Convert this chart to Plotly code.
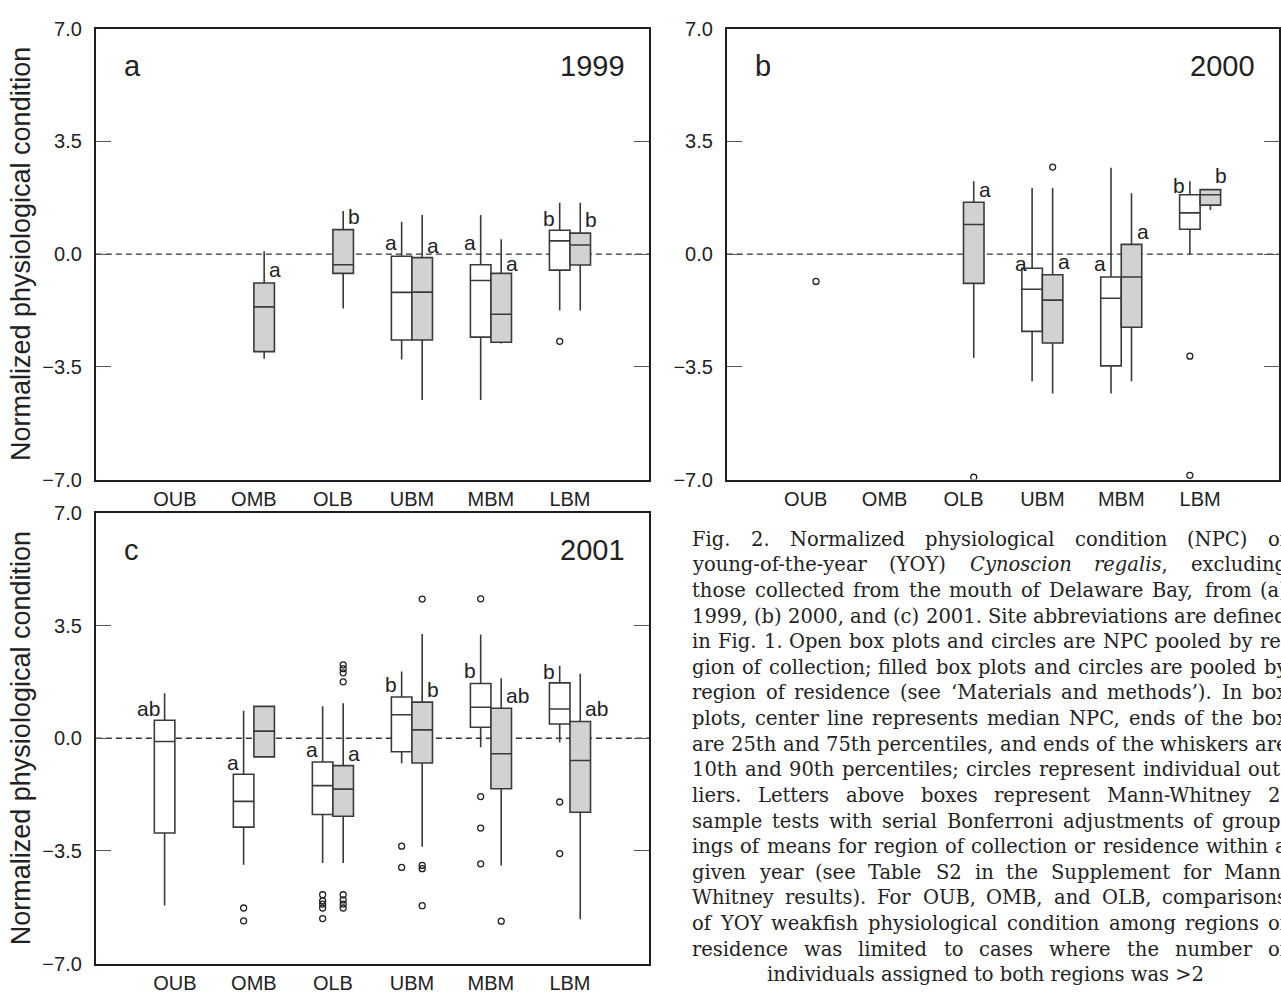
import plotly.graph_objects as go

W, H = 1281, 1006

# ---------------- data ----------------
categories = ["OUB", "OMB", "OLB", "UBM", "MBM", "LBM"]
y_ticks = [-7.0, -3.5, 0.0, 3.5, 7.0]
y_tick_labels = ["\u22127.0", "\u22123.5", "0.0", "3.5", "7.0"]
panel_letters = ["a", "b", "c"]
panel_years = ["1999", "2000", "2001"]

# five-number summaries per category: [p10, q1, median, q3, p90]; None = no box
a_collection = [None, None, None,
                [-3.27, -2.67, -1.19, -0.07, 1.00],
                [-4.53, -2.58, -0.82, -0.33, 1.21],
                [-1.75, -0.50, 0.41, 0.74, 1.59]]
a_residence = [None,
               [-3.25, -3.03, -1.64, -0.90, 0.09],
               [-1.69, -0.60, -0.33, 0.76, 1.34],
               [-4.53, -2.67, -1.18, -0.11, 1.21],
               [-2.78, -2.74, -1.87, -0.60, 0.46],
               [-1.75, -0.34, 0.28, 0.65, 1.59]]
b_collection = [None, None, None,
                [-3.95, -2.40, -1.09, -0.44, 2.05],
                [-4.33, -3.47, -1.37, -0.71, 2.68],
                [0.00, 0.77, 1.28, 1.84, 2.26]]
b_residence = [None, None,
               [-3.22, -0.91, 0.92, 1.61, 2.26],
               [-4.33, -2.76, -1.43, -0.64, 2.05],
               [-3.95, -2.27, -0.71, 0.30, 1.89],
               [1.37, 1.52, 1.84, 2.00, 2.02]]
c_collection = [[-5.19, -2.94, -0.10, 0.56, 1.40],
                [-3.93, -2.76, -1.96, -1.12, 0.85],
                [-3.87, -2.37, -1.47, -0.74, 0.99],
                [-0.78, -0.42, 0.73, 1.28, 2.07],
                [-0.28, 0.34, 0.96, 1.70, 3.22],
                [-0.13, 0.44, 0.91, 1.72, 2.25]]
c_residence = [None,
               [-0.58, -0.58, 0.22, 0.99, 0.99],
               [-3.87, -2.42, -1.58, -0.85, 1.09],
               [-3.37, -0.77, 0.26, 1.12, 3.24],
               [-3.95, -1.57, -0.48, 0.93, 1.86],
               [-5.62, -2.30, -0.69, 0.52, 2.00]]

# individual outliers per category
a_out_collection = [[], [], [], [], [], [-2.71]]
a_out_residence = [[], [], [], [], [], []]
b_out_collection = [[], [], [], [], [], [-3.17, -6.87]]
b_out_residence = [[-0.85], [], [-6.93], [2.70], [], []]
c_out_collection = [[], [-5.27, -5.67], [-4.86, -5.05, -5.15, -5.27, -5.60],
                    [-3.35, -4.01], [4.33, -1.81, -2.79, -3.90], [-1.98, -3.58]]
c_out_residence = [[], [], [2.28, 2.16, 2.03, 1.75, -4.86, -5.02, -5.15, -5.27],
                   [4.32, -3.95, -4.05, -5.20], [-5.68], []]

# Mann-Whitney grouping letters: (text, y position)
a_let_collection = [None, None, None, ("a", 0.35), ("a", 0.35), ("b", 1.11)]
a_let_residence = [None, ("a", -0.49), ("b", 1.16), ("a", 0.27), ("a", -0.28), ("b", 1.08)]
b_let_collection = [None, None, None, ("a", -0.28), ("a", -0.30), ("b", 2.13)]
b_let_residence = [None, None, ("a", 2.02), ("a", -0.23), ("a", 0.69), ("b", 2.43)]
c_let_collection = [("ab", 0.93), ("a", -0.74), ("a", -0.35), ("b", 1.67), ("b", 2.10), ("b", 2.06)]
c_let_residence = [None, None, ("a", -0.48), ("b", 1.52), ("ab", 1.34), ("ab", 0.93)]

y_title = "Normalized physiological condition"

caption_lines = [
    "Fig. 2. Normalized physiological condition (NPC) of",
    "young-of-the-year (YOY) <i>Cynoscion</i> <i>regalis</i>, excluding",
    "those collected from the mouth of Delaware Bay, from (a)",
    "1999, (b) 2000, and (c) 2001. Site abbreviations are defined",
    "in Fig. 1. Open box plots and circles are NPC pooled by re-",
    "gion of collection; filled box plots and circles are pooled by",
    "region of residence (see \u2018Materials and methods\u2019). In box",
    "plots, center line represents median NPC, ends of the box",
    "are 25th and 75th percentiles, and ends of the whiskers are",
    "10th and 90th percentiles; circles represent individual out-",
    "liers. Letters above boxes represent Mann-Whitney 2-",
    "sample tests with serial Bonferroni adjustments of group-",
    "ings of means for region of collection or residence within a",
    "given year (see Table S2 in the Supplement for Mann-",
    "Whitney results). For OUB, OMB, and OLB, comparisons",
    "of YOY weakfish physiological condition among regions of",
    "residence was limited to cases where the number of",
]
caption_last = "individuals assigned to both regions was &gt;2"

# ---------------- layout helpers ----------------
SANS = "Liberation Sans, Arial, Helvetica, sans-serif"
SERIF = "DejaVu Serif, serif"
CAP_SIZE = 19.5
BOX_W = 0.26
OFF = BOX_W / 2
OPEN_FILL = "white"
FILLED = "#d1d2d4"
LINE = "#3a3a3a"

# approximate DejaVu Serif advance widths (em) for justifying the caption
CW = dict(zip("abcdefghijklmnopqrstuvwxyz",
              [.596, .640, .560, .640, .592, .370, .640, .644, .320, .310, .606, .320, .948,
               .644, .602, .640, .640, .478, .513, .402, .644, .565, .856, .564, .565, .527]))
CW.update(dict(zip("ABCDEFGHIJKLMNOPQRSTUVWXYZ",
                   [.722, .735, .765, .802, .730, .694, .799, .872, .395, .401, .747, .664, 1.024,
                    .875, .820, .673, .820, .753, .685, .667, .843, .722, 1.028, .712, .660, .695])))
CW.update({c: .636 for c in "0123456789"})
CW.update({".": .318, ",": .318, "(": .390, ")": .390, "-": .338, ";": .337,
           "\u2018": .318, "\u2019": .318, ">": .838})


def text_w(s):
    s = s.replace("<i>", "").replace("</i>", "")
    return sum(CW.get(c, .6) for c in s) * CAP_SIZE


def px(x):
    return x / W


def py(y):
    return 1 - y / H


frames = [(96, 650, 18, 479), (728, 1281, 18, 479), (96, 650, 513, 974)]
summaries = [(a_collection, a_residence), (b_collection, b_residence), (c_collection, c_residence)]
outliers = [(a_out_collection, a_out_residence), (b_out_collection, b_out_residence),
            (c_out_collection, c_out_residence)]
letters = [(a_let_collection, a_let_residence), (b_let_collection, b_let_residence),
           (c_let_collection, c_let_residence)]

fig = go.Figure()
annotations = []
shapes = []
layout_axes = {}

for p in range(3):
    sfx = "" if p == 0 else str(p + 1)
    xa, ya = "x" + sfx, "y" + sfx
    x0, x1, y0, y1 = frames[p]
    layout_axes["xaxis" + sfx] = dict(
        domain=[px(x0), min(px(x1), 1.0)], anchor=ya, range=[0, 7],
        tickmode="array", tickvals=list(range(1, 7)), ticktext=categories,
        ticks="", showline=True, mirror=True, linecolor="#1e1e1e", linewidth=2,
        showgrid=False, zeroline=False, tickfont=dict(family=SANS, size=20, color="#222"),
        fixedrange=True)
    layout_axes["yaxis" + sfx] = dict(
        domain=[py(y1), py(y0)], anchor=xa, range=[-7, 7],
        tickmode="array", tickvals=y_ticks, ticktext=y_tick_labels,
        ticks="inside", ticklen=15, tickwidth=1, tickcolor="#555",
        showline=True, mirror="allticks", linecolor="#1e1e1e", linewidth=2,
        showgrid=False, zeroline=False, ticklabelstandoff=8,
        tickfont=dict(family=SANS, size=20, color="#222"), fixedrange=True)

    shapes.append(dict(type="line", xref=xa, yref=ya, x0=0, x1=7, y0=0, y1=0,
                       line=dict(color="#333", width=1.3, dash="6px,4px"), layer="below"))

    for s, (stats_list, fill, off) in enumerate([(summaries[p][0], OPEN_FILL, -OFF),
                                                   (summaries[p][1], FILLED, OFF)]):
        for i, st in enumerate(stats_list):
            pos = i + 1 + off
            if st is not None:
                fig.add_trace(go.Box(
                    x=[pos], lowerfence=[st[0]], q1=[st[1]], median=[st[2]],
                    q3=[st[3]], upperfence=[st[4]], orientation="v",
                    width=BOX_W, whiskerwidth=0, fillcolor=fill,
                    line=dict(color=LINE, width=1.6), boxpoints=False,
                    showlegend=False, hoverinfo="skip", xaxis=xa, yaxis=ya))
            pts = outliers[p][s][i]
            if pts:
                fig.add_trace(go.Scatter(
                    x=[pos] * len(pts), y=pts, mode="markers",
                    marker=dict(symbol="circle-open", size=6, color="#222",
                                line=dict(width=1.3, color="#222")),
                    showlegend=False, hoverinfo="skip", xaxis=xa, yaxis=ya))
            lt = letters[p][s][i]
            if lt is not None:
                annotations.append(dict(
                    x=pos, y=lt[1], xref=xa, yref=ya, text=lt[0], showarrow=False,
                    xanchor="right" if s == 0 else "left", yanchor="middle",
                    xshift=-3 if s == 0 else 3,
                    font=dict(family=SANS, size=21, color="#222")))

    # panel letter and year
    annotations.append(dict(x=px(x0 + 26), y=py(y0 + 38), xref="paper", yref="paper",
                            text=panel_letters[p], showarrow=False, xanchor="left",
                            yanchor="middle", font=dict(family=SANS, size=29, color="#222")))
    annotations.append(dict(x=px(x1 - 22), y=py(y0 + 38), xref="paper", yref="paper",
                            text=panel_years[p], showarrow=False, xanchor="right",
                            yanchor="middle", font=dict(family=SANS, size=29, color="#222")))
    if p != 1:
        annotations.append(dict(x=px(21), y=py((y0 + y1) / 2), xref="paper", yref="paper",
                                text=y_title, showarrow=False, textangle=-90,
                                xanchor="center", yanchor="middle",
                                font=dict(family=SANS, size=27, color="#222")))

# caption: justified lines (word by word), last line centred
CAP_L, CAP_R = 691.0, 1287.0
LINE0, LSTEP = 540.0, 26.2
for ln, line in enumerate(caption_lines):
    words = line.split(" ")
    widths = [text_w(w) for w in words]
    gap = (CAP_R - CAP_L - sum(widths)) / (len(words) - 1)
    gap = max(gap, 0.2 * CAP_SIZE)
    xcur = CAP_L
    yv = py(LINE0 + ln * LSTEP)
    for w, wd in zip(words, widths):
        annotations.append(dict(x=px(xcur), y=yv, xref="paper", yref="paper", text=w,
                                showarrow=False, xanchor="left", yanchor="middle",
                                font=dict(family=SERIF, size=CAP_SIZE, color="#222")))
        xcur += wd + gap
annotations.append(dict(x=px(987), y=py(LINE0 + 17 * LSTEP), xref="paper", yref="paper",
                        text=caption_last, showarrow=False, xanchor="center", yanchor="middle",
                        font=dict(family=SERIF, size=CAP_SIZE, color="#222")))

fig.update_layout(
    width=W, height=H, autosize=False,
    margin=dict(l=0, r=0, t=0, b=0),
    paper_bgcolor="white", plot_bgcolor="white",
    showlegend=False, boxmode="overlay",
    annotations=annotations, shapes=shapes,
    **layout_axes)

fig.write_html("out.html", config={"displayModeBar": False, "staticPlot": True},
               post_script="document.body.style.margin='0px';document.body.style.overflow='hidden';")
